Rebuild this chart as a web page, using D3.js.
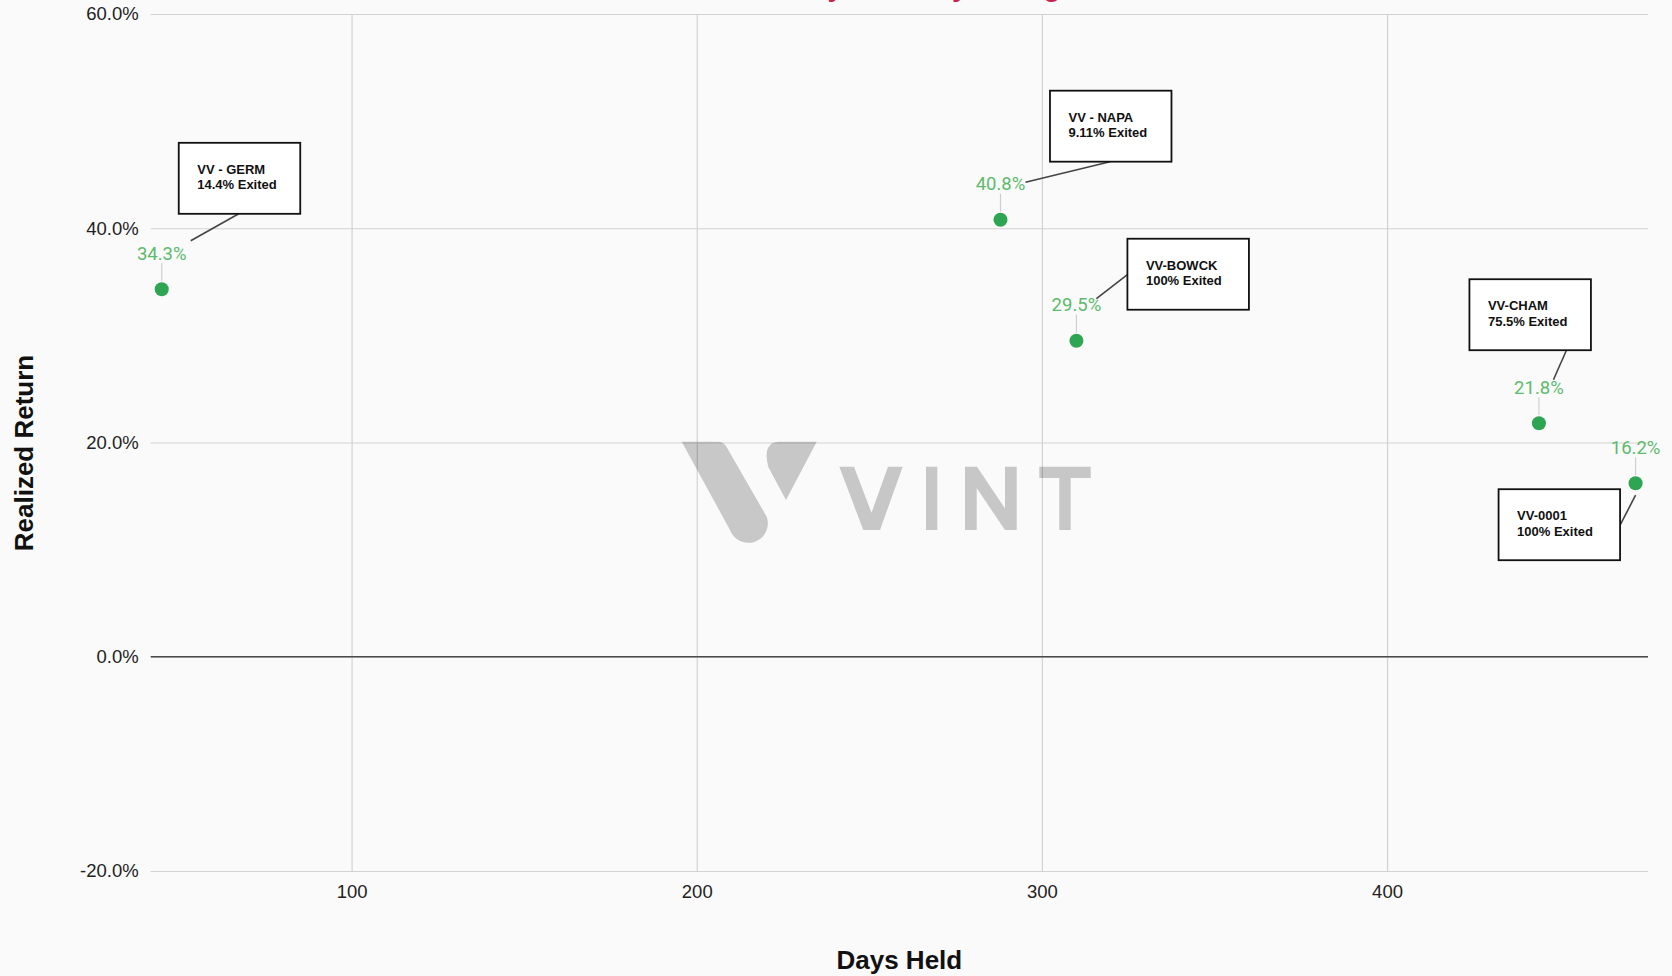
<!DOCTYPE html>
<html>
<head>
<meta charset="utf-8">
<script src="https://cdn.jsdelivr.net/npm/d3@7"></script>
<style>
  html, body { margin: 0; padding: 0; background: #fafafa; }
  svg { display: block; }
</style>
</head>
<body>
<svg id="chart" width="1672" height="976"></svg>
<script>
// ---- data ----
const positions = ["VV - GERM", "VV - NAPA", "VV-BOWCK", "VV-CHAM", "VV-0001"];
const daysHeld = [45, 288, 310, 444, 472];
const realizedReturn = [0.343, 0.408, 0.295, 0.218, 0.162];
const exitedShare = ["14.4%", "9.11%", "100%", "75.5%", "100%"];
const xTickValues = [100, 200, 300, 400];
const yTickValues = [-0.2, 0, 0.2, 0.4, 0.6];

// callout placement for each position (box offset from its point, connector anchors)
const calloutLayout = [
  { dx: 17,    dy: -146.5, ax: 60,    ay: 71,   ex: 29,   ey: -48.5 },
  { dx: 49.5,  dy: -129,   ax: 60,    ay: 71,   ex: 25,   ey: -37.5 },
  { dx: 51,    dy: -102,   ax: 0,     ay: 36,   ex: 20,   ey: -42 },
  { dx: -69.5, dy: -144,   ax: 97,    ay: 71,   ex: 14.5, ey: -43.5 },
  { dx: -137,  dy: 6,      ax: 121.5, ay: 36,   ex: 0,    ey: 12 }
];

const rows = positions.map((name, i) => ({
  name, days: daysHeld[i], ret: realizedReturn[i], exited: exitedShare[i], layout: calloutLayout[i]
}));

// percent format with a plain hyphen for negatives
const pct = v => d3.format(".1%")(v).replace("\u2212", "-");

// ---- frame ----
const plot = { left: 150.7, right: 1648, top: 14, bottom: 871 };
const svg = d3.select("#chart");
svg.append("rect").attr("width", 1672).attr("height", 976).attr("fill", "#fafafa");

const x = d3.scaleLinear().domain([41.8, 475.6]).range([plot.left, plot.right]);
const y = d3.scaleLinear().domain([-0.2, 0.6]).range([plot.bottom, plot.top]);

const tickFont = "'Liberation Sans', Arial, sans-serif";

// title (sits above the top edge of the frame)
svg.append("text")
  .attr("x", 860).attr("y", -4)
  .attr("text-anchor", "middle")
  .attr("font-family", tickFont)
  .attr("font-weight", "bold")
  .attr("font-size", 28)
  .attr("fill", "#c8234f")
  .text("Realized Return vs. Days Held by Vintage Position");

// horizontal gridlines + y tick labels
const yAxis = svg.append("g")
  .attr("transform", `translate(${plot.left},0)`)
  .call(d3.axisLeft(y)
    .tickValues(yTickValues)
    .tickSizeInner(-(plot.right - plot.left))
    .tickSizeOuter(0)
    .tickPadding(12)
    .tickFormat(pct));
yAxis.select(".domain").remove();
yAxis.selectAll(".tick line").attr("stroke", "#d2d2d2").attr("stroke-width", 1.2);
yAxis.selectAll(".tick text")
  .attr("font-family", tickFont).attr("font-size", 18.5).attr("fill", "#222");

// vertical gridlines + x tick labels
const xAxis = svg.append("g")
  .attr("transform", `translate(0,${plot.bottom})`)
  .call(d3.axisBottom(x)
    .tickValues(xTickValues)
    .tickSizeInner(-(plot.bottom - plot.top))
    .tickSizeOuter(0)
    .tickPadding(14)
    .tickFormat(d3.format("d")));
xAxis.select(".domain").remove();
xAxis.selectAll(".tick line").attr("stroke", "#d2d2d2").attr("stroke-width", 1.2);
xAxis.selectAll(".tick text")
  .attr("font-family", tickFont).attr("font-size", 18.5).attr("fill", "#222");

// baseline at 0%
svg.append("line")
  .attr("x1", plot.left).attr("x2", plot.right)
  .attr("y1", y(0)).attr("y2", y(0))
  .attr("stroke", "#4a4a4a").attr("stroke-width", 1.6);

// axis titles
svg.append("text")
  .attr("x", (plot.left + plot.right) / 2).attr("y", 969)
  .attr("text-anchor", "middle")
  .attr("font-family", tickFont).attr("font-weight", "bold").attr("font-size", 26)
  .attr("fill", "#111")
  .text("Days Held");

svg.append("text")
  .attr("transform", "translate(33,453) rotate(-90)")
  .attr("text-anchor", "middle")
  .attr("font-family", tickFont).attr("font-weight", "bold").attr("font-size", 26)
  .attr("fill", "#111")
  .text("Realized Return");

// VINT watermark (logo mark + wordmark), drawn translucent over the grid
const logo = svg.append("g")
  .attr("transform", "translate(650,420)")
  .attr("opacity", 0.2)
  .attr("fill", "#000");
logo.append("path")
  .attr("d", "M31.7,21.7 L68,21.7 Q73,21.7 76,26 L116.7,96.7 A19.5,19.5 0 0 1 80,110 Z");
logo.append("path")
  .attr("d", "M129,21.7 L166.7,21.7 L136,80 L118.3,47 Q112,22 129,21.7 Z");
logo.append("path")
  .attr("d", "M189.3,46.7 L204,46.7 L221.5,92.8 L238,46.7 L252.7,46.7 L230,110 L213.3,110 Z");
logo.append("rect").attr("x", 276).attr("y", 46.7).attr("width", 11.3).attr("height", 63.3);
logo.append("path")
  .attr("d", "M315,110 L315,46.7 L327,46.7 L355,88.5 L355,46.7 L366.7,46.7 L366.7,110 L355,110 L326.7,68 L326.7,110 Z");
logo.append("path")
  .attr("d", "M389.3,46.7 L440.7,46.7 L440.7,58 L420.7,58 L420.7,110 L409.3,110 L409.3,58 L389.3,58 Z");

// leader ticks from each point up to its value label
svg.append("g").selectAll("line")
  .data(rows).join("line")
  .attr("x1", d => x(d.days)).attr("x2", d => x(d.days))
  .attr("y1", d => y(d.ret) - 26).attr("y2", d => y(d.ret) - 8)
  .attr("stroke", "#cfcfcf").attr("stroke-width", 1.2);

// points
svg.append("g").selectAll("circle")
  .data(rows).join("circle")
  .attr("cx", d => x(d.days)).attr("cy", d => y(d.ret))
  .attr("r", 7)
  .attr("fill", "#2ea552");

// value labels
svg.append("g").selectAll("text")
  .data(rows).join("text")
  .attr("x", d => x(d.days)).attr("y", d => y(d.ret) - 29.5)
  .attr("text-anchor", "middle")
  .attr("font-family", "Roboto, sans-serif").attr("font-size", 18.5)
  .attr("fill", "#5cbb6c")
  .text(d => pct(d.ret));

// callout connectors
svg.append("g").selectAll("line")
  .data(rows).join("line")
  .attr("x1", d => x(d.days) + d.layout.dx + d.layout.ax)
  .attr("y1", d => y(d.ret) + d.layout.dy + d.layout.ay)
  .attr("x2", d => x(d.days) + d.layout.ex)
  .attr("y2", d => y(d.ret) + d.layout.ey)
  .attr("stroke", "#444").attr("stroke-width", 1.6);

// callout boxes
const boxes = svg.append("g").selectAll("g")
  .data(rows).join("g")
  .attr("transform", d => `translate(${x(d.days) + d.layout.dx},${y(d.ret) + d.layout.dy})`);
boxes.append("rect")
  .attr("width", 121.5).attr("height", 71)
  .attr("fill", "#fff").attr("stroke", "#111").attr("stroke-width", 1.8);
boxes.append("text")
  .attr("x", 18.5).attr("y", 31)
  .attr("font-family", tickFont).attr("font-weight", "bold").attr("font-size", 13)
  .attr("fill", "#111")
  .text(d => d.name);
boxes.append("text")
  .attr("x", 18.5).attr("y", 46.5)
  .attr("font-family", tickFont).attr("font-weight", "bold").attr("font-size", 13)
  .attr("fill", "#111")
  .text(d => `${d.exited} Exited`);
</script>
</body>
</html>
